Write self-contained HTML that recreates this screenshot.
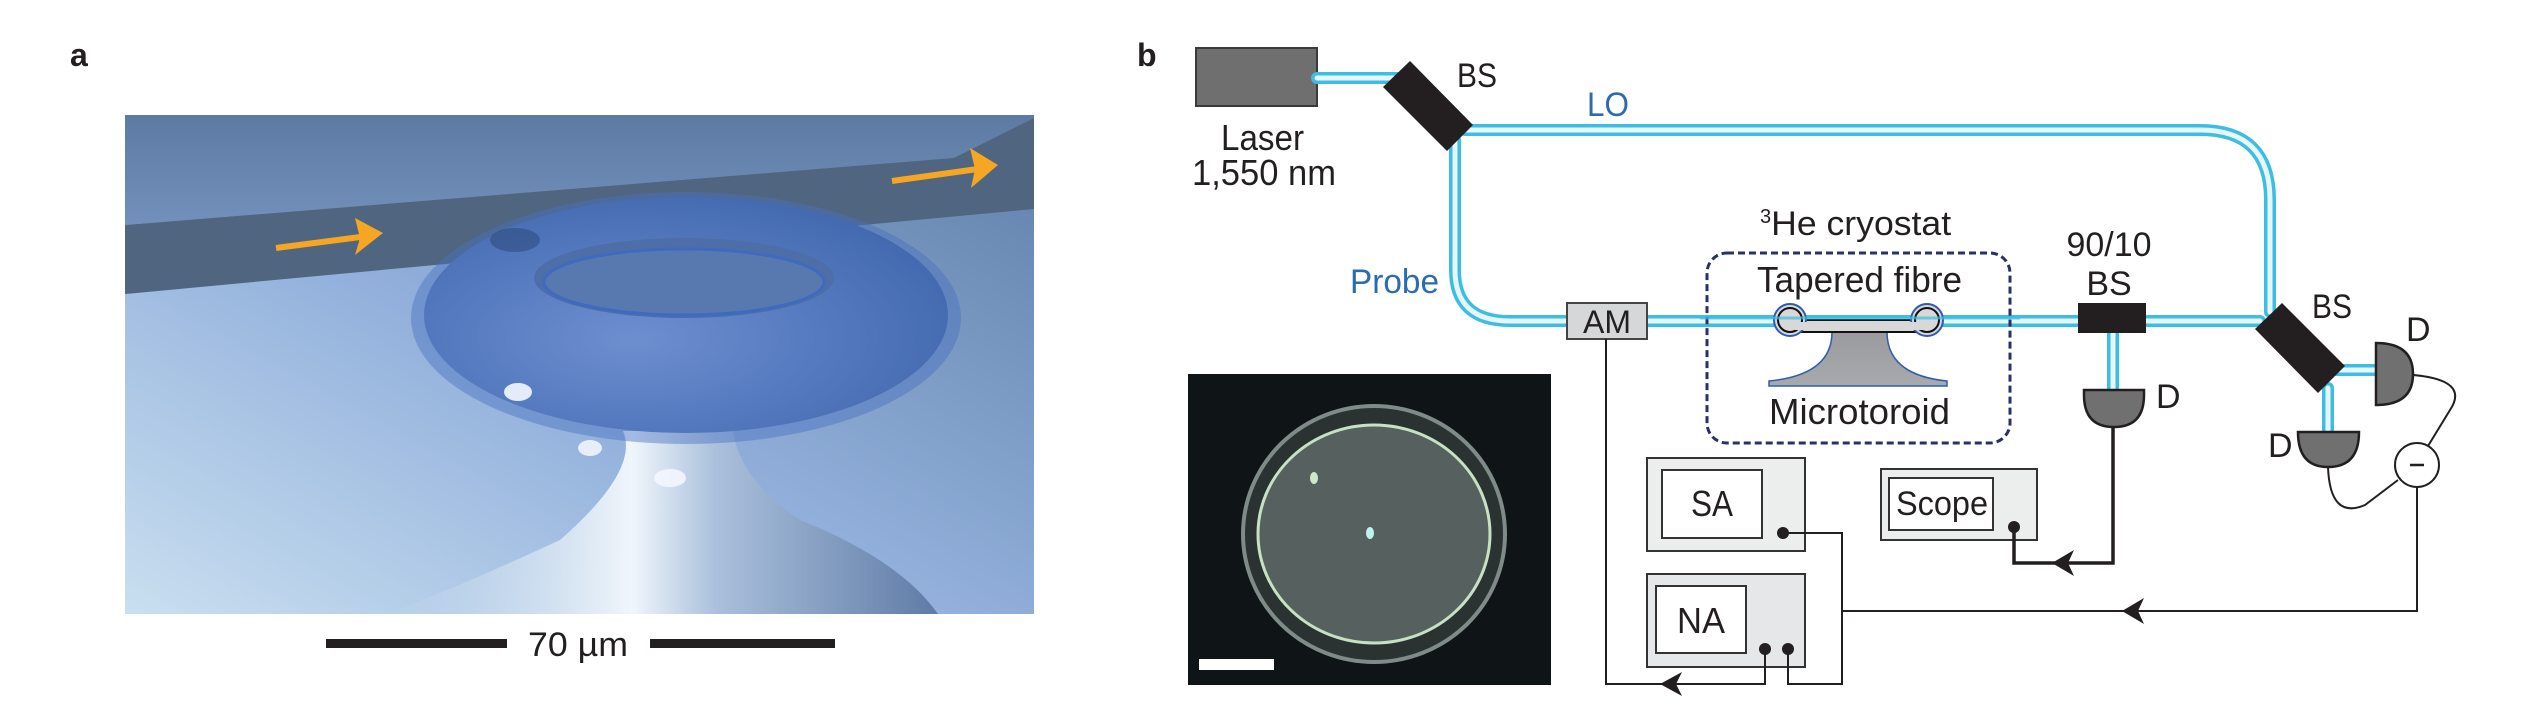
<!DOCTYPE html>
<html><head><meta charset="utf-8"><style>
html,body{margin:0;padding:0;background:#fff;width:2521px;height:719px;overflow:hidden}
svg{display:block}
text{font-family:"Liberation Sans",sans-serif;}
</style></head><body>
<svg width="2521" height="719" viewBox="0 0 2521 719" xmlns="http://www.w3.org/2000/svg">
<defs>
<linearGradient id="bg" x1="0" y1="1" x2="1" y2="0">
<stop offset="0" stop-color="#c9dff0"/><stop offset="0.45" stop-color="#93b1dc"/><stop offset="1" stop-color="#5f7fa8"/>
</linearGradient>
<linearGradient id="top" x1="0" y1="0" x2="0" y2="1">
<stop offset="0" stop-color="#5c7aa2"/><stop offset="1" stop-color="#7290bb"/>
</linearGradient>
<linearGradient id="ped" x1="0" y1="0" x2="1" y2="0">
<stop offset="0" stop-color="#b4cde6" stop-opacity="0.3"/><stop offset="0.45" stop-color="#f0f6fb"/><stop offset="0.6" stop-color="#aac0dc"/><stop offset="1" stop-color="#5f7ba6"/>
</linearGradient>
<radialGradient id="tor" cx="0.4" cy="0.6" r="0.7">
<stop offset="0" stop-color="#6d8fd0"/><stop offset="0.7" stop-color="#4d72b8"/><stop offset="1" stop-color="#3f66ad"/>
</radialGradient>
<linearGradient id="ped2" x1="0" y1="0" x2="0" y2="1"><stop offset="0" stop-color="#9a9b9e"/><stop offset="1" stop-color="#a8a9ac"/></linearGradient>
</defs>

<!-- panel a -->
<text x="70" y="66" font-size="32" font-weight="bold" fill="#231f20">a</text>
<rect x="125" y="115" width="909" height="499" fill="url(#bg)"/>
<path d="M125 115 H1034 V118 L954 158 L125 225 Z" fill="url(#top)"/>
<path d="M125 225 L954 158 L1034 118 V209 L125 294 Z" fill="#4f6580"/>
<path d="M623 431 Q640 470 560 540 Q430 600 381 614 H938 Q900 560 800 520 Q740 480 733 431 Z" fill="url(#ped)"/>
<ellipse cx="686" cy="318" rx="275" ry="126" fill="#4a72c0" opacity="0.45"/>
<ellipse cx="686" cy="315" rx="262" ry="118" fill="url(#tor)"/>
<ellipse cx="684" cy="278" rx="150" ry="40" fill="#4d6ea8"/>
<ellipse cx="684" cy="282" rx="140" ry="33" fill="#5878b0" stroke="#3f6ac0" stroke-width="3"/>
<ellipse cx="515" cy="240" rx="25" ry="12" fill="#2f4d80" opacity="0.6"/>
<ellipse cx="518" cy="392" rx="14" ry="9" fill="#f4f8ff" opacity="0.9"/>
<ellipse cx="590" cy="448" rx="12" ry="8" fill="#f4f8ff" opacity="0.85"/>
<ellipse cx="670" cy="478" rx="16" ry="9" fill="#f4f8ff" opacity="0.85"/>
<g fill="#f5a623" stroke="#f5a623">
<line x1="276" y1="248" x2="368" y2="236" stroke-width="6"/>
<polygon points="383,233 355,218 360,238 355,255" stroke="none"/>
<line x1="892" y1="181" x2="985" y2="168" stroke-width="6"/>
<polygon points="998,165 970,148 975,169 971,188" stroke="none"/>
</g>
<rect x="326" y="639" width="181" height="9" fill="#231f20"/>
<rect x="650" y="639" width="185" height="9" fill="#231f20"/>
<text x="528" y="656" font-size="34" fill="#231f20" textLength="100" lengthAdjust="spacingAndGlyphs">70 µm</text>

<!-- panel b -->
<text x="1137" y="66" font-size="32" font-weight="bold" fill="#231f20">b</text>
<rect x="1196" y="48" width="121" height="58" fill="#6f6f6f" stroke="#3a3a3a" stroke-width="2"/>
<text x="1221" y="150" font-size="36" fill="#231f20" textLength="83" lengthAdjust="spacingAndGlyphs">Laser</text>
<text x="1192" y="185" font-size="36" fill="#231f20" textLength="144" lengthAdjust="spacingAndGlyphs">1,550 nm</text>

<g fill="none" stroke-linecap="round">
<g stroke="#3cbde3" stroke-width="12">
<path d="M1317 78 H1400"/>
<path d="M1465 130 H2200 Q2270 130 2270 200 V312"/>
<path d="M1455 140 V270 Q1455 321 1510 321 H2260"/>
<path d="M2113 330 V390"/>
<path d="M2335 370 H2376"/>
<path d="M2328 388 V432"/>
</g>
<g stroke="#e6f6fb" stroke-width="5">
<path d="M1317 78 H1400"/>
<path d="M1465 130 H2200 Q2270 130 2270 200 V312"/>
<path d="M1455 140 V270 Q1455 321 1510 321 H2260"/>
<path d="M2113 330 V390"/>
<path d="M2335 370 H2376"/>
<path d="M2328 388 V432"/>
</g>
</g>
<polygon points="1410,61 1473,125 1447,151 1383,87" fill="#231f20"/>
<text x="1457" y="87" font-size="34" fill="#231f20" textLength="40" lengthAdjust="spacingAndGlyphs">BS</text>
<text x="1587" y="116" font-size="34" fill="#2b6cb0" textLength="42" lengthAdjust="spacingAndGlyphs">LO</text>
<text x="1350" y="293" font-size="34" fill="#2b6cb0" textLength="89" lengthAdjust="spacingAndGlyphs">Probe</text>
<rect x="1567" y="303" width="80" height="36" fill="#d6d7d9" stroke="#444" stroke-width="2"/>
<text x="1607" y="333" font-size="32" fill="#231f20" text-anchor="middle">AM</text>
<rect x="1707" y="253" width="303" height="190" rx="20" fill="none" stroke="#2a2f6e" stroke-width="3" stroke-dasharray="7,4"/>
<text x="1760" y="235" font-size="34" fill="#231f20"><tspan font-size="20" dy="-12">3</tspan><tspan dy="12" textLength="180" lengthAdjust="spacingAndGlyphs">He cryostat</tspan></text>
<text x="1757" y="292" font-size="36" fill="#231f20" textLength="205" lengthAdjust="spacingAndGlyphs">Tapered fibre</text>
<text x="1769" y="424" font-size="36" fill="#231f20" textLength="181" lengthAdjust="spacingAndGlyphs">Microtoroid</text>
<path d="M1832 332 Q1832 375 1769 381 V386 H1947 V381 Q1887 375 1887 332 Z" fill="url(#ped2)" stroke="#2f5bb0" stroke-width="1.5"/>
<rect x="1795" y="320" width="128" height="12" fill="#d8d8d8" stroke="#111" stroke-width="2"/>
<circle cx="1790" cy="320" r="16" fill="#d8d8d8" stroke="#2f5bb0" stroke-width="2"/>
<circle cx="1927" cy="320" r="16" fill="#d8d8d8" stroke="#2f5bb0" stroke-width="2"/>
<circle cx="1790" cy="320" r="12" fill="#d8d8d8" stroke="#111" stroke-width="2"/>
<circle cx="1927" cy="320" r="12" fill="#d8d8d8" stroke="#111" stroke-width="2"/>
<rect x="1795" y="322" width="128" height="8" fill="#d8d8d8"/>
<line x1="1700" y1="318" x2="2020" y2="318" stroke="#3cbde3" stroke-width="3" opacity="0.7"/>
<text x="2109" y="256" font-size="34" fill="#231f20" text-anchor="middle">90/10</text>
<text x="2109" y="295" font-size="34" fill="#231f20" text-anchor="middle">BS</text>
<rect x="2078" y="303" width="68" height="30" fill="#231f20"/>
<path d="M2084 390 H2144 V395 Q2144 427 2114 427 Q2084 427 2084 395 Z" fill="#707070" stroke="#231f20" stroke-width="2.5"/>
<text x="2156" y="408" font-size="34" fill="#231f20">D</text>
<polygon points="2282,303 2345,366 2318,393 2255,329" fill="#231f20"/>
<text x="2312" y="318" font-size="34" fill="#231f20" textLength="40" lengthAdjust="spacingAndGlyphs">BS</text>
<path d="M2376 343 Q2413 343 2413 374 Q2413 405 2376 405 Z" fill="#707070" stroke="#231f20" stroke-width="2.5"/>
<text x="2406" y="341" font-size="34" fill="#231f20">D</text>
<path d="M2298 432 H2359 Q2359 467 2328 467 Q2298 467 2298 432 Z" fill="#707070" stroke="#231f20" stroke-width="2.5"/>
<text x="2268" y="457" font-size="34" fill="#231f20">D</text>
<circle cx="2417" cy="465" r="22" fill="#fff" stroke="#231f20" stroke-width="2"/>
<line x1="2410" y1="465" x2="2424" y2="465" stroke="#231f20" stroke-width="2.5"/>
<g fill="none" stroke="#231f20" stroke-width="2">
<path d="M2413 375 Q2470 380 2450 410 L2428 446"/>
<path d="M2328 467 Q2330 520 2365 505 L2398 480"/>
</g>
<g stroke="#333" stroke-width="2">
<rect x="1647" y="458" width="158" height="93" fill="#eceded"/>
<rect x="1662" y="470" width="100" height="68" fill="#fff"/>
<rect x="1647" y="574" width="158" height="93" fill="#e6e7e8"/>
<rect x="1656" y="586" width="90" height="67" fill="#fff"/>
<rect x="1881" y="469" width="156" height="71" fill="#eceded"/>
<rect x="1889" y="478" width="104" height="52" fill="#fff"/>
</g>
<text x="1691" y="516" font-size="36" fill="#231f20" textLength="42" lengthAdjust="spacingAndGlyphs">SA</text>
<text x="1677" y="633" font-size="36" fill="#231f20" textLength="48" lengthAdjust="spacingAndGlyphs">NA</text>
<text x="1896" y="515" font-size="34" fill="#231f20" textLength="92" lengthAdjust="spacingAndGlyphs">Scope</text>
<g fill="#231f20">
<circle cx="1783" cy="533" r="6"/><circle cx="1765" cy="649" r="6"/><circle cx="1788" cy="649" r="6"/><circle cx="2014" cy="527" r="6"/>
</g>
<g fill="none" stroke="#231f20" stroke-width="2">
<path d="M1606 339 V684 H1765 V649"/>
<path d="M1783 533 H1842 V684 H1788 V649"/>
<path d="M2417 487 V611 H1842"/>
</g>
<path d="M2113 427 V563 H2014 V527" fill="none" stroke="#231f20" stroke-width="3.5"/>
<g fill="#231f20">
<polygon points="1660,684 1682,672 1676,684 1682,696"/>
<polygon points="2052,563 2074,550 2068,563 2074,576"/>
<polygon points="2122,611 2144,598 2138,611 2144,624"/>
</g>
<rect x="1188" y="374" width="363" height="311" fill="#0f1416"/>
<ellipse cx="1374" cy="534" rx="131" ry="128" fill="#2a3332" stroke="#7f8b86" stroke-width="4"/>
<ellipse cx="1374" cy="534" rx="116" ry="109" fill="#56605e" stroke="#c8e0c4" stroke-width="3"/>
<ellipse cx="1314" cy="478" rx="4" ry="6" fill="#cfe8cc"/>
<ellipse cx="1370" cy="533" rx="4" ry="6" fill="#bff2ee"/>
<rect x="1199" y="659" width="75" height="11" fill="#fff"/>
</svg>
</body></html>
